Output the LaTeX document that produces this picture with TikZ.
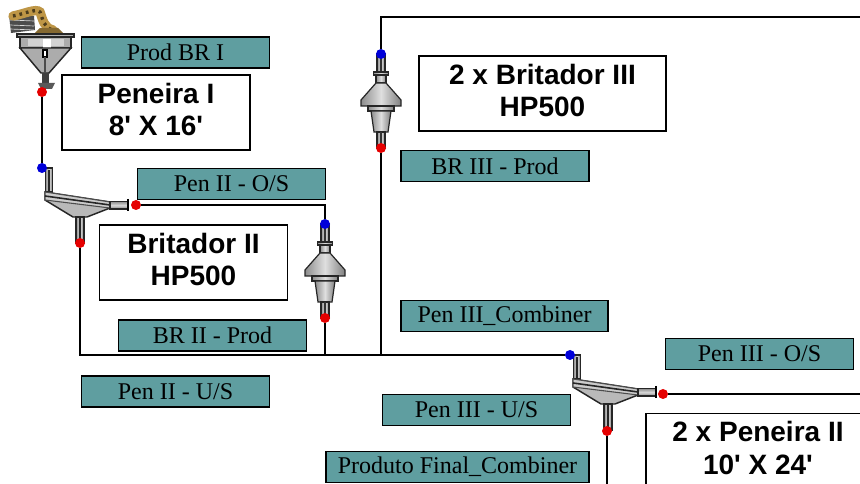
\documentclass[tikz,border=0pt]{standalone}
\usepackage{fontspec}
\setmainfont{Liberation Serif}
\newfontfamily\labelsans{Liberation Sans}
\usetikzlibrary{calc}
\definecolor{tagteal}{RGB}{95,158,160}
\definecolor{orepile}{RGB}{190,150,70}
\tikzset{
  tagbox/.style={draw=black, line width=1.1pt, fill=tagteal, minimum width=141pt, minimum height=23.5pt, inner sep=0pt, font=\fontsize{18}{20}\selectfont},
  unittext/.style={inner sep=0pt, align=center, yshift=2.2pt, font=\labelsans\bfseries\fontsize{21}{24.5}\selectfont},
  unitbox/.style={draw=black, line width=1.1pt, fill=white, minimum height=56pt, inner sep=0pt, label={[unittext]center:#1}},
  portin/.style={circle, fill=blue!85!black, minimum size=7.5pt, inner sep=0pt},
  portout/.style={circle, fill=red!90!black, minimum size=7.5pt, inner sep=0pt},
  feedline/.style={draw=black, line width=1.1pt},
  steel/.style={draw=black!85, line width=0.9pt, left color=gray!90, right color=gray, middle color=gray!25},
  steelflat/.style={draw=black!85, line width=1.1pt, fill=gray!55},
  crusher/.pic={
    \draw[steel] (-4,0) rectangle (4,19);
    \draw[black!80, line width=0.9pt] (0,0) -- (0,19);
    \draw[steel] (-7.5,18) rectangle (7.5,21);
    \draw[steel] (-5,21) rectangle (5,29);
    \draw[steel] (-5,29) -- (-20,46) -- (-20,52) -- (20,52) -- (20,46) -- (5,29) -- cycle;
    \draw[steel] (-13,52) rectangle (13,57);
    \draw[steel] (-10,57) -- (-7,78) -- (7,78) -- (10,57) -- cycle;
    \draw[steel] (-4,78) rectangle (4,94);
    \draw[black!80, line width=0.9pt] (0,78) -- (0,94);
  },
  screener/.pic={
    \draw[steel] (3.5,0) rectangle (10.5,24);
    \draw[black!85, line width=0.9pt] (7,2) -- (7,24);
    \draw[steelflat] (3,24) -- (3,32) -- (31,49) -- (45,49) -- (68,40) -- (68,34) -- cycle;
    \draw[black!70, line width=0.8pt, fill=gray!40] (3,24) -- (3,32) -- (68,40) -- (68,34) -- cycle;
    \draw[black!85, line width=1.2pt] (3,28) -- (68,37);
    \draw[steel] (34,49) rectangle (42,75);
    \draw[black!85, line width=0.9pt] (38,50) -- (38,75);
    \draw[draw=black!85, line width=0.9pt, top color=gray!90, bottom color=gray, middle color=gray!30] (68,33.5) rectangle (86,41);
    \draw[black, line width=1pt] (86,31) -- (86,43);
  },
  hopper/.pic={
    \fill[black!70] (-33,-77) -- (-8,-76) -- (-7,-62) -- (-31,-59) -- cycle;
    \draw[white!70!gray, line width=0.5pt] (-32,-72) -- (-8,-71) (-32,-67) -- (-8,-66) (-32,-63) -- (-8,-62);
    \draw[orepile, line width=7pt, line cap=round] (-29,-76) .. controls (-18,-78) and (-6,-84) .. (-2,-80) .. controls (1,-72) and (2,-64) .. (11,-62);
    \draw[black!60!orepile, line width=2.5pt, dash pattern=on 2pt off 3pt] (-29,-76) .. controls (-18,-78) and (-6,-84) .. (-2,-80) .. controls (1,-72) and (2,-64) .. (11,-62);
    \fill[orepile!70!black] (-8,-58) -- (-2,-64) -- (16,-64) -- (22,-58) -- cycle;
    \draw[steelflat, fill=gray!60] (-25,-58) rectangle (32,-55);
    \draw[steelflat, fill=gray!65] (-22,-55) rectangle (29,-44);
    \fill[gray!35] (-14,-53) rectangle (1,-46);
    \fill[gray!35] (9,-53) rectangle (22,-46);
    \fill[white] (1,-53) rectangle (9,-44);
    \draw[steelflat, fill=gray!65] (-22,-44) -- (29,-44) -- (7,-19) -- (-1,-19) -- cycle;
    \draw[black, line width=0.8pt, fill=white] (1,-42) rectangle (5,-35);
    \draw[black!70, line width=1pt] (3,-35) -- (3,-19);
    \fill[black!75] (0,-19) rectangle (7,-9);
    \fill[gray!70!black] (-4,-9) -- (13,-9) -- (10,-3) -- (-1,-3) -- cycle;
  }
}
\begin{document}
\begin{tikzpicture}[x=0.75pt, y=-0.75pt]
\useasboundingbox (0,0) rectangle (860,484);
\clip (0,0) rectangle (860,484);
\fill[white] (0,0) rectangle (860,484);
\pic at (42,92) {hopper};
\pic at (42,168) {screener};
\pic at (325,224) {crusher};
\pic at (381,54) {crusher};
\pic at (570,355) {screener};
\node[portout] (hopperout) at (42,92) {};
\node[portin] (screenAin) at (42,168) {};
\node[portout] (screenAos) at (136,205) {};
\node[portout] (screenAus) at (80,243) {};
\node[portin] (crusherBin) at (325,224) {};
\node[portout] (crusherBout) at (325,318) {};
\node[portin] (crusherCin) at (381,54) {};
\node[portout] (crusherCout) at (381,148) {};
\node[portin] (screenBin) at (570,355) {};
\node[portout] (screenBos) at (663,394) {};
\node[portout] (screenBus) at (607,431) {};
\coordinate (recycleturn) at (381,17);
\coordinate (recycleend) at (860,17);
\coordinate (osend) at (860,394);
\coordinate (usend) at (607,484);
\path[feedline] (hopperout) -- (screenAin);
\path[feedline] (screenAos) -| (crusherBin);
\path[feedline] (screenAus) |- (screenBin);
\path[feedline] (crusherBout) -- (crusherBout |- screenBin);
\path[feedline] (crusherCout) -- (crusherCout |- screenBin);
\path[feedline] (crusherCin) -- (recycleturn) -- (recycleend);
\path[feedline] (screenBos) -- (osend);
\path[feedline] (screenBus) -- (usend);
\node[tagbox] (tagprodA) at (175.5,52.5) {Prod BR I};
\node[tagbox] (tagosA) at (231.5,184) {Pen II - O/S};
\node[tagbox] (tagprodB) at (212.5,335.5) {BR II - Prod};
\node[tagbox] (tagusA) at (175.5,391.5) {Pen II - U/S};
\node[tagbox] (tagprodC) at (495,166) {BR III - Prod};
\node[tagbox, minimum width=155pt] (tagcombA) at (504.5,316) {Pen III\_Combiner};
\node[tagbox] (tagosB) at (759.5,354) {Pen III - O/S};
\node[tagbox] (tagusB) at (476.5,410) {Pen III - U/S};
\node[tagbox, minimum width=197pt] (tagcombB) at (457.5,467) {Produto Final\_Combiner};
\node[unitbox={Peneira I\\8' X 16'}, minimum width=141pt] (unitscreenA) at (156,112.5) {};
\node[unitbox={Britador II\\HP500}, minimum width=141pt] (unitcrusherB) at (193.5,262.5) {};
\node[unitbox={2 x Britador III\\HP500}, minimum width=185pt] (unitcrusherC) at (542.5,93.5) {};
\node[unitbox={2 x Peneira II\\10' X 24'}, minimum width=168pt] (unitscreenB) at (758,451) {};
\end{tikzpicture}
\end{document}
